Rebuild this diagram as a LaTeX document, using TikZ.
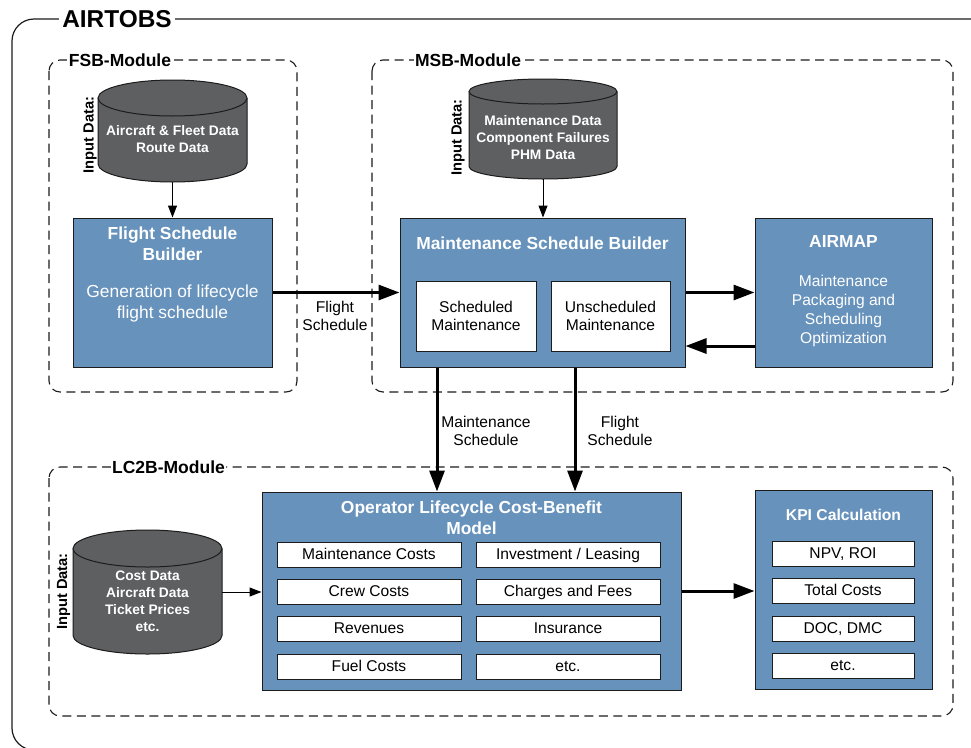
\documentclass[tikz,border=0pt]{standalone}
\usepackage{fontspec}
\setmainfont{Liberation Sans}
\usetikzlibrary{arrows.meta}
\definecolor{boxblue}{RGB}{102,146,188}
\definecolor{cylgray}{RGB}{94,95,97}
\definecolor{edgec}{RGB}{28,28,28}

\newcommand{\dbcyl}[6]{% #1 name, #2 x1, #3 x2, #4 ytop, #5 ybot, #6 ry
  \pgfmathsetmacro\cxa{(#2+#3)/2}
  \pgfmathsetmacro\crx{(#3-#2)/2}
  \pgfmathsetmacro\cyt{-(#4+#6)}
  \pgfmathsetmacro\cyb{-(#5-#6)}
  \pgfmathsetmacro\cyc{-(#4+#5)/2}
  \pgfmathsetmacro\ch{#5-#4}
  \pgfmathsetmacro\cw{#3-#2}
  \fill[cylgray] (#2,\cyt) -- (#2,\cyb) arc[start angle=180,end angle=360,x radius=\crx,y radius=#6] -- (#3,\cyt) arc[start angle=0,end angle=180,x radius=\crx,y radius=#6] -- cycle;
  \draw[cylline] (#2,\cyt) -- (#2,\cyb) arc[start angle=180,end angle=360,x radius=\crx,y radius=#6] -- (#3,\cyt);
  \draw[cylline] (\cxa,\cyt) ellipse[x radius=\crx, y radius=#6];
  \node[inner sep=0pt, minimum width=\cw pt, minimum height=\ch pt] (#1) at (\cxa,\cyc) {};
}

\tikzset{
  cylline/.style={draw=edgec, line width=1pt},
  bluebox/.style={draw=edgec, line width=1pt, fill=boxblue, inner sep=0pt},
  whitebox/.style={draw=edgec, line width=1pt, fill=white, inner sep=0pt, font=\fontsize{15.6}{18}\selectfont},
  cell/.style={whitebox, minimum height=25pt, text height=11.2pt, text depth=1.5pt},
  module/.style={draw=edgec, line width=1.1pt, dash pattern=on 9pt off 5.5pt, rounded corners=11pt},
  modlabel/.style={fill=white, inner sep=1.5pt, font=\fontsize{17.5}{20}\selectfont\bfseries},
  ttl/.style={text=white, inner sep=0pt, align=center, font=\fontsize{17.4}{21}\selectfont\bfseries},
  dsc/.style={text=white, inner sep=0pt, align=center, font=\fontsize{17.4}{21}\selectfont},
  dscs/.style={text=white, inner sep=0pt, align=center, font=\fontsize{15.6}{19}\selectfont},
  cyltext/.style={text=white, inner sep=0pt, align=center, font=\fontsize{13.8}{17}\selectfont\bfseries},
  inlabel/.style={rotate=90, inner sep=0pt, font=\fontsize{14.7}{17}\selectfont\bfseries},
  lbl/.style={inner sep=0pt, align=center, font=\fontsize{15.6}{18}\selectfont},
  thickarrow/.style={line width=3pt, -{Triangle[length=21pt,width=15pt]}},
  thinarrow/.style={line width=1pt, -{Triangle[length=12pt,width=9pt]}},
}

\begin{document}
\begin{tikzpicture}[x=1pt,y=1pt]
\useasboundingbox (0,0) rectangle (971,-747);
\clip (0,0) rectangle (971,-747);
\fill[white] (0,0) rectangle (971,-747);

% outer frame
\draw[line width=1.2pt, edgec, rounded corners=22pt] (980,-19) -- (12,-19) -- (12,-750) -- (980,-750);
\node[fill=white, inner sep=3pt, font=\fontsize{24.4}{28}\selectfont\bfseries] (title) at (117,-19) {AIRTOBS};

% module frames
\draw[module] (49,-60) rectangle (297,-392);
\draw[module] (372,-60) rectangle (953,-392);
\draw[module] (49,-467) rectangle (953,-716);
\node[modlabel] (fsbmod) at (120,-60) {FSB-Module};
\node[modlabel] (msbmod) at (468,-60) {MSB-Module};
\node[modlabel] (lcmod) at (168.5,-467) {LC2B-Module};

% cylinders
\dbcyl{cylFSB}{98}{247}{80}{182}{18}
\node[cyltext] (cylFSBtxt) at (172.5,-139) {Aircraft \& Fleet Data\\Route Data};
\node[inlabel] (inFSB) at (90,-135) {Input Data:};

\dbcyl{cylMSB}{469}{617}{79}{179}{12.5}
\node[cyltext] (cylMSBtxt) at (543,-137.5) {Maintenance Data\\Component Failures\\PHM Data};
\node[inlabel] (inMSB) at (458,-137.5) {Input Data:};

\dbcyl{cylLC}{73}{222}{530}{654}{18.5}
\node[cyltext] (cylLCtxt) at (147.5,-601) {Cost Data\\Aircraft Data\\Ticket Prices\\etc.};
\node[inlabel] (inLC) at (63.5,-591.5) {Input Data:};

% FSB box
\node[bluebox, minimum width=199pt, minimum height=149pt] (fsb) at (172.5,-292.5) {};
\node[ttl] (fsbT) at (172.5,-243.5) {Flight Schedule\\Builder};
\node[dsc] (fsbD) at (172.5,-303.5) {Generation of lifecycle\\flight schedule};

% MSB box
\node[bluebox, minimum width=285pt, minimum height=149pt] (msb) at (542.5,-292.5) {};
\node[ttl] (msbT) at (542.5,-243) {Maintenance Schedule Builder};
\node[whitebox, minimum width=120pt, minimum height=70pt, align=center] (sched) at (476,-316) {Scheduled\\Maintenance};
\node[whitebox, minimum width=119pt, minimum height=70pt, align=center] (unsched) at (610.5,-316) {Unscheduled\\Maintenance};

% AIRMAP box
\node[bluebox, minimum width=177pt, minimum height=149pt] (airmap) at (843.5,-292.5) {};
\node[ttl] (airmapT) at (843.5,-242) {AIRMAP};
\node[dscs] (airmapD) at (843.5,-310.5) {Maintenance\\Packaging and\\Scheduling\\Optimization};

% OLCB box
\node[bluebox, minimum width=419pt, minimum height=198pt] (olcb) at (471.5,-591) {};
\node[ttl] (olcbT) at (471.5,-517.5) {Operator Lifecycle Cost-Benefit\\Model};
\node[cell, minimum width=184pt] (c11) at (369,-554.5) {Maintenance Costs};
\node[cell, minimum width=184pt] (c21) at (369,-591.5) {Crew Costs};
\node[cell, minimum width=184pt] (c31) at (369,-629) {Revenues};
\node[cell, minimum width=184pt] (c41) at (369,-666.5) {Fuel Costs};
\node[cell, minimum width=184pt] (c12) at (568,-554.5) {Investment / Leasing};
\node[cell, minimum width=184pt] (c22) at (568,-591.5) {Charges and Fees};
\node[cell, minimum width=184pt] (c32) at (568,-629) {Insurance};
\node[cell, minimum width=184pt] (c42) at (568,-666.5) {etc.};

% KPI box
\node[bluebox, minimum width=177pt, minimum height=199pt] (kpi) at (843.5,-589.5) {};
\node[ttl, font=\fontsize{15.7}{19}\selectfont\bfseries] (kpiT) at (843.5,-515) {KPI Calculation};
\node[cell, minimum width=142pt] (k1) at (843,-553.5) {NPV, ROI};
\node[cell, minimum width=142pt] (k2) at (843,-590.5) {Total Costs};
\node[cell, minimum width=142pt] (k3) at (843,-628.5) {DOC, DMC};
\node[cell, minimum width=142pt] (k4) at (843,-665.5) {etc.};

% connectors
\draw[thinarrow] (cylFSB.south) -- (fsb.north);
\draw[thinarrow] (cylMSB.south) -- (cylMSB.south |- msb.north);
\draw[thickarrow] (fsb.east) -- (msb.west);
\node[lbl] (fsLbl) at (335,-316) {Flight\\Schedule};
\draw[thickarrow] (msb.east) -- (airmap.west);
\draw[thickarrow] ([yshift=-53.5pt]airmap.west) -- ([yshift=-53.5pt]msb.east);
\coordinate (xa) at (437,0);
\coordinate (xb) at (575,0);
\draw[thickarrow] (msb.south -| xa) -- (olcb.north -| xa);
\draw[thickarrow] (msb.south -| xb) -- (olcb.north -| xb);
\node[lbl] (msLbl) at (486,-431) {Maintenance\\Schedule};
\node[lbl] (fs2Lbl) at (620,-431) {Flight\\Schedule};
\draw[thinarrow] (cylLC.east) -- (cylLC.east -| olcb.west);
\draw[thickarrow] (olcb.east) -- (olcb.east -| kpi.west);
\end{tikzpicture}
\end{document}
